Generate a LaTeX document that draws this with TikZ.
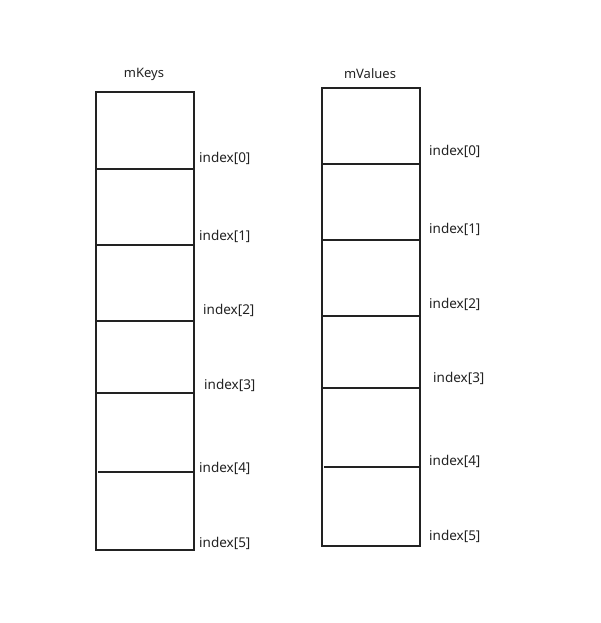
\documentclass[tikz,border=0pt]{standalone}
\usepackage{fontspec}
\setmainfont{Noto Sans}
\definecolor{ink}{HTML}{222222}
\begin{document}
\begin{tikzpicture}[x=1pt,y=-1pt,
  cell/.style={draw=ink,line width=1.6pt},
  divline/.style={draw=ink,line width=1.6pt},
  lbl/.style={anchor=west,inner sep=0pt,text=ink,font=\fontsize{13.5}{15}\selectfont},
  ttl/.style={inner sep=0pt,text=ink,font=\fontsize{13}{15}\selectfont}]
\useasboundingbox (0,0) rectangle (600,623);
% left array
\node[ttl] (tk) at (144,74) {mKeys};
\draw[cell] (96,92) rectangle (194,550);
\coordinate (k1a) at (96,169); \coordinate (k1b) at (194,169);
\coordinate (k2a) at (96,245); \coordinate (k2b) at (194,245);
\coordinate (k3a) at (96,321); \coordinate (k3b) at (194,321);
\coordinate (k4a) at (96,393); \coordinate (k4b) at (194,393);
\coordinate (k5a) at (98,472); \coordinate (k5b) at (194,472);
\draw[divline] (k1a) -- (k1b);
\draw[divline] (k2a) -- (k2b);
\draw[divline] (k3a) -- (k3b);
\draw[divline] (k4a) -- (k4b);
\draw[divline] (k5a) -- (k5b);
\node[lbl] (kl0) at (199,158) {index[0]};
\node[lbl] (kl1) at (199,236) {index[1]};
\node[lbl] (kl2) at (203,310) {index[2]};
\node[lbl] (kl3) at (204,385) {index[3]};
\node[lbl] (kl4) at (199,468) {index[4]};
\node[lbl] (kl5) at (199,543) {index[5]};
% right array
\node[ttl] (tv) at (370,74) {mValues};
\draw[cell] (322,88) rectangle (420,546);
\coordinate (v1a) at (322,164); \coordinate (v1b) at (420,164);
\coordinate (v2a) at (322,240); \coordinate (v2b) at (420,240);
\coordinate (v3a) at (322,316); \coordinate (v3b) at (420,316);
\coordinate (v4a) at (322,388); \coordinate (v4b) at (420,388);
\coordinate (v5a) at (324,467); \coordinate (v5b) at (420,467);
\draw[divline] (v1a) -- (v1b);
\draw[divline] (v2a) -- (v2b);
\draw[divline] (v3a) -- (v3b);
\draw[divline] (v4a) -- (v4b);
\draw[divline] (v5a) -- (v5b);
\node[lbl] (vl0) at (429,151) {index[0]};
\node[lbl] (vl1) at (429,229) {index[1]};
\node[lbl] (vl2) at (429,304) {index[2]};
\node[lbl] (vl3) at (433,378) {index[3]};
\node[lbl] (vl4) at (429,461) {index[4]};
\node[lbl] (vl5) at (429,536) {index[5]};
\end{tikzpicture}
\end{document}
